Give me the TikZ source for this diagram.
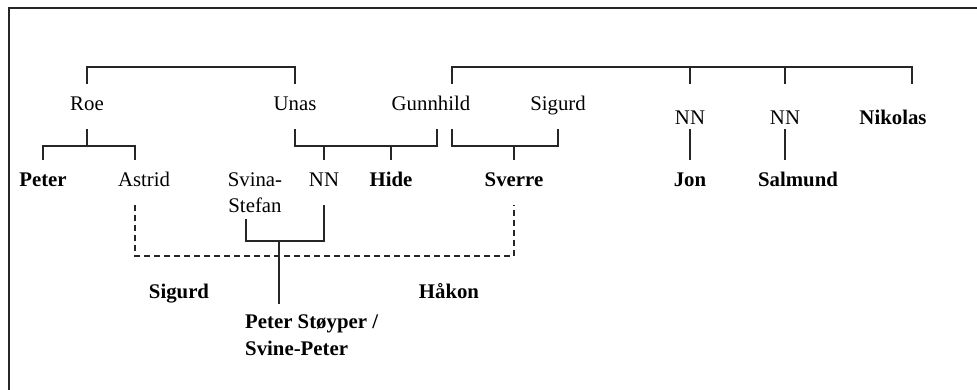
\documentclass[tikz,border=0pt]{standalone}
\usepackage{fontspec}
\setmainfont{Liberation Serif}
\usepackage{tikz}
\usetikzlibrary{positioning}

\begin{document}
\begin{tikzpicture}[x=1pt,y=-1pt]
		\tikzstyle{person}=[anchor=base, inner xsep=0pt, inner ysep=12pt, text height=15pt, text depth=6pt, font=\fontsize{20.8}{26.5}\selectfont]
		\tikzstyle{king}=[person, font=\fontsize{20.8}{26.5}\selectfont\bfseries]
		\tikzstyle{twoline}=[anchor=base, inner xsep=0pt, inner ysep=6pt, align=center, font=\fontsize{20.8}{26.5}\selectfont]
		\tikzstyle{line}=[line width=1.3pt, black!85]
		\tikzstyle{frilla}=[line, dash pattern=on 6pt off 4pt]

		\useasboundingbox (0,0) rectangle (977,390);
		\draw [line width=1.8pt, black!85] (9,390) -- (9,8) -- (977,8);

		\coordinate (bar1) at (0,67);
		\coordinate (bar2) at (0,146);
		\coordinate (bar3) at (0,241);
		\coordinate (bar4) at (0,256);

		\begin{scope}
			\node [person] (roe) at (87,111) {Roe};
			\node [person] (unas) at (295,111) {Unas};
			\node [person] (gunnhild) at (431,111) {Gunnhild};
			\node [person] (sigurdS) at (558,111) {Sigurd};
			\node [person] (nnJ) at (690,125) {NN};
			\node [person] (nnS) at (785,125) {NN};
			\node [king] (nikolas) at (893,125) {Nikolas};
		\end{scope}

		\begin{scope}
			\node [king] (peter) at (43,187) {Peter};
			\node [person] (astrid) at (144,187) {Astrid};
			\node [twoline] (svina) at (255,213) {Svina-\\Stefan};
			\node [person] (nn) at (324,187) {NN};
			\node [king] (hide) at (391,187) {Hide};
			\node [king] (sverre) at (514,187) {Sverre};
			\node [king] (jon) at (690,187) {Jon};
			\node [king] (salmund) at (798,187) {Salmund};
		\end{scope}

		\begin{scope}
			\node [king] (sigurd) at (179,298) {Sigurd};
			\node [king] (haakon) at (449,298) {Håkon};
			\node [twoline, anchor=base west, align=left, inner ysep=11pt, font=\fontsize{20.8}{26.5}\selectfont\bfseries] (stoyper) at (245,355) {Peter Støyper /\\Svine-Peter};
		\end{scope}

		\coordinate (gunnR) at ([xshift=21]gunnhild.north);
		\coordinate (gunnL) at ([xshift=6]gunnhild.south);
		\coordinate (nikR) at ([xshift=19]nikolas.north);
		\coordinate (astridT) at ([xshift=-9]astrid.north);
		\coordinate (svinaB) at ([xshift=-9]svina.south);
		\coordinate (ps) at ([xshift=34]stoyper.north west);

		% marriages and children
		\draw [line] (roe.north) |- (unas.north |- bar1) -- (unas.north);
		\draw [line] (gunnR) |- (nikR |- bar1) -- (nikR |- roe.north);
		\draw [line] (nnJ |- bar1) -- (nnJ |- roe.north);
		\draw [line] (nnS |- bar1) -- (nnS |- roe.north);

		\draw [line] (roe.south) -- (roe |- bar2);
		\draw [line] (peter.north) |- (astridT |- bar2) -- (astridT);
		\draw [line] (unas.south) |- (gunnL |- bar2) -- (gunnL);
		\draw [line] (nn.north) -- (nn.north |- bar2);
		\draw [line] (hide.north) -- (hide.north |- bar2);
		\draw [line] (gunnR |- sigurdS.south) |- (sigurdS.south |- bar2) -- (sigurdS.south);
		\draw [line] (sverre.north) -- (sverre.north |- bar2);
		\draw [line] (nnJ |- roe.south) -- (jon.north);
		\draw [line] (nnS |- roe.south) -- (nnS |- salmund.north);

		\draw [line] (svinaB) |- (nn.south |- bar3) -- (nn.south);
		\draw [line] (ps |- bar3) -- (ps);
		\draw [frilla] (astridT |- astrid.south) |- (sverre.south |- bar4) -- (sverre.south);
	\end{tikzpicture}
\end{document}
